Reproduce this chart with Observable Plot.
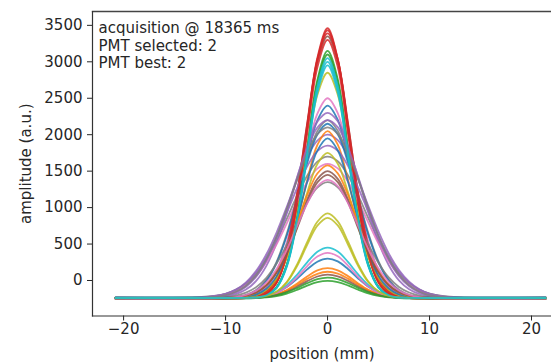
<!DOCTYPE html>
<html><head><meta charset="utf-8">
<script src="https://cdn.jsdelivr.net/npm/d3@7"></script>
<script src="https://cdn.jsdelivr.net/npm/@observablehq/plot@0.6"></script>
<style>body{margin:0;background:#fff} svg{display:block}</style>
</head><body><div id="chart"></div>
<script>
// positions (mm) at which every profile is sampled
const positions = [-20.8, -12, -10, -9, -8, -7, -6, -5, -4, -3, -2, -1, 0, 1, 2, 3, 4, 5, 6, 7, 8, 9, 10, 12, 21.4];

// amplitude profiles (a.u.), one per acquisition
const profile00 = [-235,-236,-234,-231,-219,-183,-87,122,498,1048,1678,2197,2400,2205,1690,1060,505,130,-80,-180,-218,-231,-234,-236,-235];
const profile01 = [-245,-245,-245,-244,-243,-237,-222,-189,-130,-43,56,138,170,140,60,-40,-128,-188,-222,-237,-243,-244,-245,-245,-245];
const profile02 = [-240,-240,-240,-240,-239,-233,-202,-91,219,861,1816,2752,3150,2760,1825,870,225,-88,-200,-233,-239,-240,-240,-240,-240];
const profile03 = [-238,-238,-238,-238,-235,-223,-175,-20,363,1090,2104,3055,3460,3040,2110,1100,370,-15,-172,-223,-235,-238,-238,-238,-238];
const profile04 = [-242,-230,-183,-125,-25,133,360,658,1009,1372,1695,1920,2000,1925,1705,1385,1020,670,372,145,-15,-120,-180,-228,-242];
const profile05 = [-236,-236,-236,-235,-231,-213,-149,35,450,1179,2137,2998,3350,3005,2145,1190,458,40,-146,-212,-231,-235,-236,-236,-236];
const profile06 = [-248,-248,-247,-244,-232,-194,-94,124,516,1090,1747,2289,2500,2295,1755,1098,522,130,-90,-192,-232,-244,-247,-248,-248];
const profile07 = [-232,-222,-182,-132,-45,91,287,543,846,1159,1437,1631,1700,1636,1445,1168,855,552,295,98,-40,-128,-180,-222,-232];
const profile08 = [-244,-244,-244,-243,-240,-224,-169,-10,348,977,1803,2546,2850,2550,1810,985,352,-6,-168,-224,-240,-243,-244,-244,-244];
const profile09 = [-238,-238,-238,-238,-237,-231,-202,-96,200,813,1726,2620,3000,2625,1735,820,205,-93,-200,-231,-237,-238,-238,-238,-238];
const profile10 = [-240,-240,-240,-239,-237,-229,-210,-167,-90,23,152,258,300,262,158,28,-86,-165,-209,-229,-237,-239,-240,-240,-240];
const profile11 = [-250,-250,-250,-248,-241,-218,-149,12,323,803,1376,1859,2050,1865,1385,810,330,18,-146,-217,-241,-248,-250,-250,-250];
const profile12 = [-246,-246,-246,-246,-245,-241,-232,-213,-179,-129,-71,-24,-5,-22,-68,-126,-177,-212,-232,-241,-245,-246,-246,-246,-246];
const profile13 = [-242,-242,-242,-242,-240,-228,-182,-33,335,1033,2007,2921,3300,2930,2015,1040,340,-30,-180,-228,-240,-242,-242,-242,-242];
const profile14 = [-236,-234,-217,-187,-125,-5,201,513,925,1398,1850,2179,2300,2185,1858,1408,935,522,210,2,-120,-185,-216,-234,-236];
const profile15 = [-240,-240,-237,-230,-210,-163,-64,113,386,740,1109,1392,1500,1395,1115,748,392,118,-60,-161,-209,-230,-237,-240,-240];
const profile16 = [-244,-234,-196,-148,-66,64,251,496,785,1084,1349,1534,1600,1538,1356,1092,795,505,260,72,-60,-145,-195,-234,-244];
const profile17 = [-238,-238,-234,-223,-197,-131,8,257,640,1135,1651,2049,2200,2055,1660,1142,648,262,12,-128,-196,-223,-234,-238,-238];
const profile18 = [-242,-242,-242,-242,-240,-235,-214,-154,-20,217,527,806,920,812,535,225,-14,-150,-212,-235,-240,-242,-242,-242,-242];
const profile19 = [-236,-236,-236,-235,-233,-226,-206,-158,-65,78,249,393,450,398,255,84,-60,-155,-205,-226,-233,-235,-236,-236,-236];
const profile20 = [-248,-248,-244,-234,-207,-142,-6,239,615,1102,1610,2001,2150,2006,1618,1110,622,245,-2,-140,-206,-234,-244,-248,-248];
const profile21 = [-238,-238,-238,-237,-236,-231,-218,-190,-138,-64,22,92,120,95,26,-60,-135,-188,-217,-231,-236,-237,-238,-238,-238];
const profile22 = [-244,-244,-244,-244,-243,-237,-207,-97,208,842,1784,2707,3100,2712,1792,850,214,-94,-206,-237,-243,-244,-244,-244,-244];
const profile23 = [-240,-240,-240,-239,-235,-217,-152,34,453,1188,2155,3025,3390,3030,2162,1196,460,38,-150,-217,-235,-239,-240,-240,-240];
const profile24 = [-238,-227,-184,-129,-36,111,323,600,927,1265,1566,1775,1850,1780,1574,1275,936,610,332,120,-30,-125,-182,-227,-238];
const profile25 = [-244,-244,-244,-244,-242,-238,-226,-200,-154,-86,-9,55,80,58,-5,-82,-152,-199,-226,-238,-242,-244,-244,-244,-244];
const profile26 = [-242,-242,-242,-241,-240,-233,-215,-171,-87,43,198,328,380,332,204,48,-84,-170,-215,-233,-240,-241,-242,-242,-242];
const profile27 = [-236,-236,-224,-206,-166,-91,37,232,490,786,1069,1275,1350,1279,1075,792,496,238,42,-88,-165,-206,-224,-236,-236];
const profile28 = [-240,-240,-239,-237,-228,-201,-128,29,313,729,1205,1597,1750,1602,1212,736,318,33,-126,-200,-228,-237,-239,-240,-240];
const profile29 = [-246,-246,-246,-246,-245,-239,-211,-106,186,792,1692,2574,2950,2580,1700,800,192,-102,-210,-239,-245,-246,-246,-246,-246];
const profile30 = [-236,-236,-235,-233,-223,-193,-113,60,372,828,1351,1782,1950,1786,1358,835,378,64,-110,-192,-223,-233,-235,-236,-236];
const profile31 = [-244,-244,-241,-233,-213,-164,-60,126,413,783,1170,1467,1580,1470,1176,790,420,131,-56,-162,-213,-233,-241,-244,-244];
const profile32 = [-240,-240,-240,-240,-238,-234,-224,-202,-162,-104,-37,18,40,20,-34,-101,-160,-201,-224,-234,-238,-240,-240,-240,-240];
const profile33 = [-244,-244,-244,-244,-241,-229,-182,-28,353,1075,2083,3028,3430,3035,2090,1082,358,-25,-180,-229,-241,-244,-244,-244,-244];
const profile34 = [-240,-235,-208,-167,-86,53,275,587,980,1414,1812,2098,2200,2104,1820,1422,990,596,284,60,-80,-164,-207,-235,-240];
const profile35 = [-238,-238,-235,-228,-209,-164,-68,105,370,712,1070,1345,1450,1349,1076,718,376,110,-65,-162,-208,-228,-235,-238,-238];
const profile36 = [-246,-246,-239,-228,-199,-139,-26,159,422,741,1056,1292,1380,1296,1062,748,428,164,-22,-136,-198,-228,-239,-246,-246];
const profile37 = [-242,-235,-202,-155,-71,74,297,601,978,1381,1746,2006,2100,2010,1754,1390,988,610,305,82,-65,-152,-200,-235,-242];
const profile38 = [-238,-238,-238,-238,-237,-231,-211,-155,-28,195,488,752,860,756,494,200,-24,-152,-210,-231,-237,-238,-238,-238,-238];
const profile39 = [-240,-240,-240,-240,-239,-233,-203,-96,205,828,1755,2663,3050,2668,1762,835,210,-93,-202,-233,-239,-240,-240,-240,-240];

const profiles = [profile00,profile01,profile02,profile03,profile04,profile05,profile06,profile07,profile08,profile09,
  profile10,profile11,profile12,profile13,profile14,profile15,profile16,profile17,profile18,profile19,
  profile20,profile21,profile22,profile23,profile24,profile25,profile26,profile27,profile28,profile29,
  profile30,profile31,profile32,profile33,profile34,profile35,profile36,profile37,profile38,profile39];

const yTicks = [0, 500, 1000, 1500, 2000, 2500, 3000, 3500];
const xTicks = [-20, -10, 0, 10, 20];
const infoLines = ["acquisition @ 18365 ms", "PMT selected: 2", "PMT best: 2"];
const colorCycle = ["#1f77b4","#ff7f0e","#2ca02c","#d62728","#9467bd","#8c564b","#e377c2","#7f7f7f","#bcbd22","#17becf"];

const rows = profiles.flatMap((vals, s) => vals.map((v, i) => ({position: positions[i], amplitude: v, series: s, colorIndex: s % 10})));
const minus = d => (d < 0 ? "\u2212" + Math.abs(d) : String(d));

const chart = Plot.plot({
  width: 551,
  height: 363,
  marginTop: 11,
  marginBottom: 47.5,
  marginLeft: 92,
  marginRight: 0,
  style: {fontFamily: "DejaVu Sans", fontSize: "15px", color: "#262626", background: "#fff"},
  x: {domain: [-23.05, 21.96]},
  y: {domain: [-487, 3690]},
  color: {type: "ordinal", domain: d3.range(10), range: colorCycle},
  marks: [
    Plot.line(rows, {x: "position", y: "amplitude", z: "series", stroke: "colorIndex", strokeWidth: 1.8, strokeOpacity: 0.85, curve: "catmull-rom"}),
    Plot.frame({anchor: "top", stroke: "#444", strokeWidth: 1.3}),
    Plot.frame({anchor: "left", stroke: "#333", strokeWidth: 1.2}),
    Plot.frame({anchor: "bottom", stroke: "#333", strokeWidth: 1.2}),
    Plot.axisY(yTicks, {tickSize: 5, tickPadding: 5, fontSize: 15, tickFormat: d => String(d), label: "amplitude (a.u.)", labelAnchor: "center", labelArrow: "none", labelOffset: 72}),
    Plot.axisX(xTicks, {tickSize: 5, tickPadding: 2, fontSize: 15, tickFormat: minus, label: "position (mm)", labelAnchor: "center", labelArrow: "none", labelOffset: 43}),
    Plot.text([infoLines.join("\n")], {frameAnchor: "top-left", dx: 6, dy: 9, fontSize: 15, lineHeight: 1.17, textAnchor: "start", fill: "#262626"})
  ]
});
document.getElementById("chart").appendChild(chart);
</script>
</body></html>
